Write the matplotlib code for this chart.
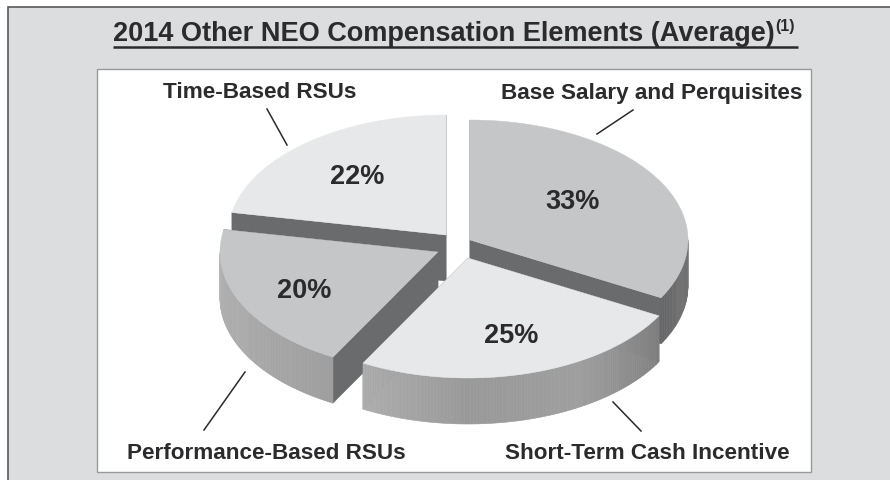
import matplotlib
matplotlib.use('Agg')
import matplotlib.pyplot as plt
from matplotlib.patches import Polygon, Rectangle
import numpy as np

plt.rcParams['font.family'] = ['Liberation Sans', 'DejaVu Sans']

# Data
labels = ['Base Salary and Perquisites', 'Short-Term Cash Incentive',
          'Performance-Based RSUs', 'Time-Based RSUs']
shares = [33, 25, 20, 22]
title = '2014 Other NEO Compensation Elements (Average)'

# Look of each slice, in the same order as shares
centers = [(470, 241), (468, 259), (438, 253), (446, 236)]
top_colors = ['#c5c6c8', '#e7e8ea', '#c5c6c8', '#e7e8ea']
pct_pos = [(573, 202), (511, 336), (304, 291), (357, 177)]
draw_order = [3, 0, 2, 1]

# wall shade along the rim, by angle
wall_angles = {0: [-29, 0], 1: [-119, -90, -60, -29], 2: [-180, -150, -119], 3: [-191, -180]}
wall_greys = {0: [0.40, 0.46], 1: [0.68, 0.60, 0.62, 0.50], 2: [0.70, 0.66, 0.62], 3: [0.42, 0.42]}

rx, ry, depth = 218, 120, 46
cut_color = '#6a6b6d'

fig = plt.figure(figsize=(8.9, 4.81), dpi=100, facecolor='white')
ax = fig.add_axes([0, 0, 1, 1])
ax.set_xlim(0, 890)
ax.set_ylim(481, 0)
ax.axis('off')

# grey panel and white box
ax.add_patch(Rectangle((8, 8), 900, 500, fc='#dcddde', ec='#58595b', lw=1.2))
ax.add_patch(Rectangle((97, 70), 714, 403, fc='white', ec='#98999b', lw=1.0))


def rim(cx, cy, t):
    return cx + rx * np.cos(np.radians(t)), cy - ry * np.sin(np.radians(t))


ends = 90 - np.cumsum([0] + shares) * 3.6

for i in draw_order:
    cx, cy = centers[i]
    t0, t1 = ends[i], ends[i + 1]
    ts = np.linspace(t0, t1, 120)
    xs, ys = rim(cx, cy, ts)

    # cut faces
    for t in (t0, t1):
        x, y = rim(cx, cy, t)
        ax.add_patch(Polygon([(cx, cy), (x, y), (x, y + depth), (cx, cy + depth)],
                             fc=cut_color, ec=cut_color, lw=0.3))

    # outer wall, front half only
    for a, b in zip(ts[:-1], ts[1:]):
        if np.sin(np.radians((a + b) / 2)) > 0:
            continue
        g = np.interp((a + b) / 2, wall_angles[i], wall_greys[i])
        xa, ya = rim(cx, cy, a)
        xb, yb = rim(cx, cy, b)
        ax.add_patch(Polygon([(xa, ya), (xb, yb), (xb, yb + depth), (xa, ya + depth)],
                             fc=str(g), ec=str(g), lw=0.4))

    # top surface
    ax.add_patch(Polygon(np.column_stack([np.r_[cx, xs], np.r_[cy, ys]]),
                         fc=top_colors[i], ec=top_colors[i], lw=0.3))

for (x, y), v in zip(pct_pos, shares):
    ax.text(x, y, f'{v}%', ha='center', va='center', fontsize=19.5,
            fontweight='bold', color='#2b2a2c')

# title
ax.text(113, 34, title, ha='left', va='center', fontsize=19.5, fontweight='bold', color='#2b2a2c')
ax.text(775, 27, '(1)', ha='left', va='center', fontsize=11.5, fontweight='bold', color='#2b2a2c')
ax.plot([113, 798], [48, 48], color='#2b2a2c', lw=1.8, solid_capstyle='butt')

# slice names
ax.text(652, 93, labels[0], ha='center', va='center', fontsize=16.2, fontweight='bold', color='#2b2a2c')
ax.text(647, 454, labels[1], ha='center', va='center', fontsize=16.2, fontweight='bold', color='#2b2a2c')
ax.text(266, 454, labels[2], ha='center', va='center', fontsize=16.2, fontweight='bold', color='#2b2a2c')
ax.text(260, 92, labels[3], ha='center', va='center', fontsize=16.2, fontweight='bold', color='#2b2a2c')

# leader lines
ax.plot([633, 597], [111, 135], color='#2b2a2c', lw=1.1)
ax.plot([613, 641], [403, 432], color='#2b2a2c', lw=1.1)
ax.plot([245, 204], [373, 431], color='#2b2a2c', lw=1.1)
ax.plot([267, 287], [110, 146], color='#2b2a2c', lw=1.1)

fig.savefig('out.png', dpi=100)
